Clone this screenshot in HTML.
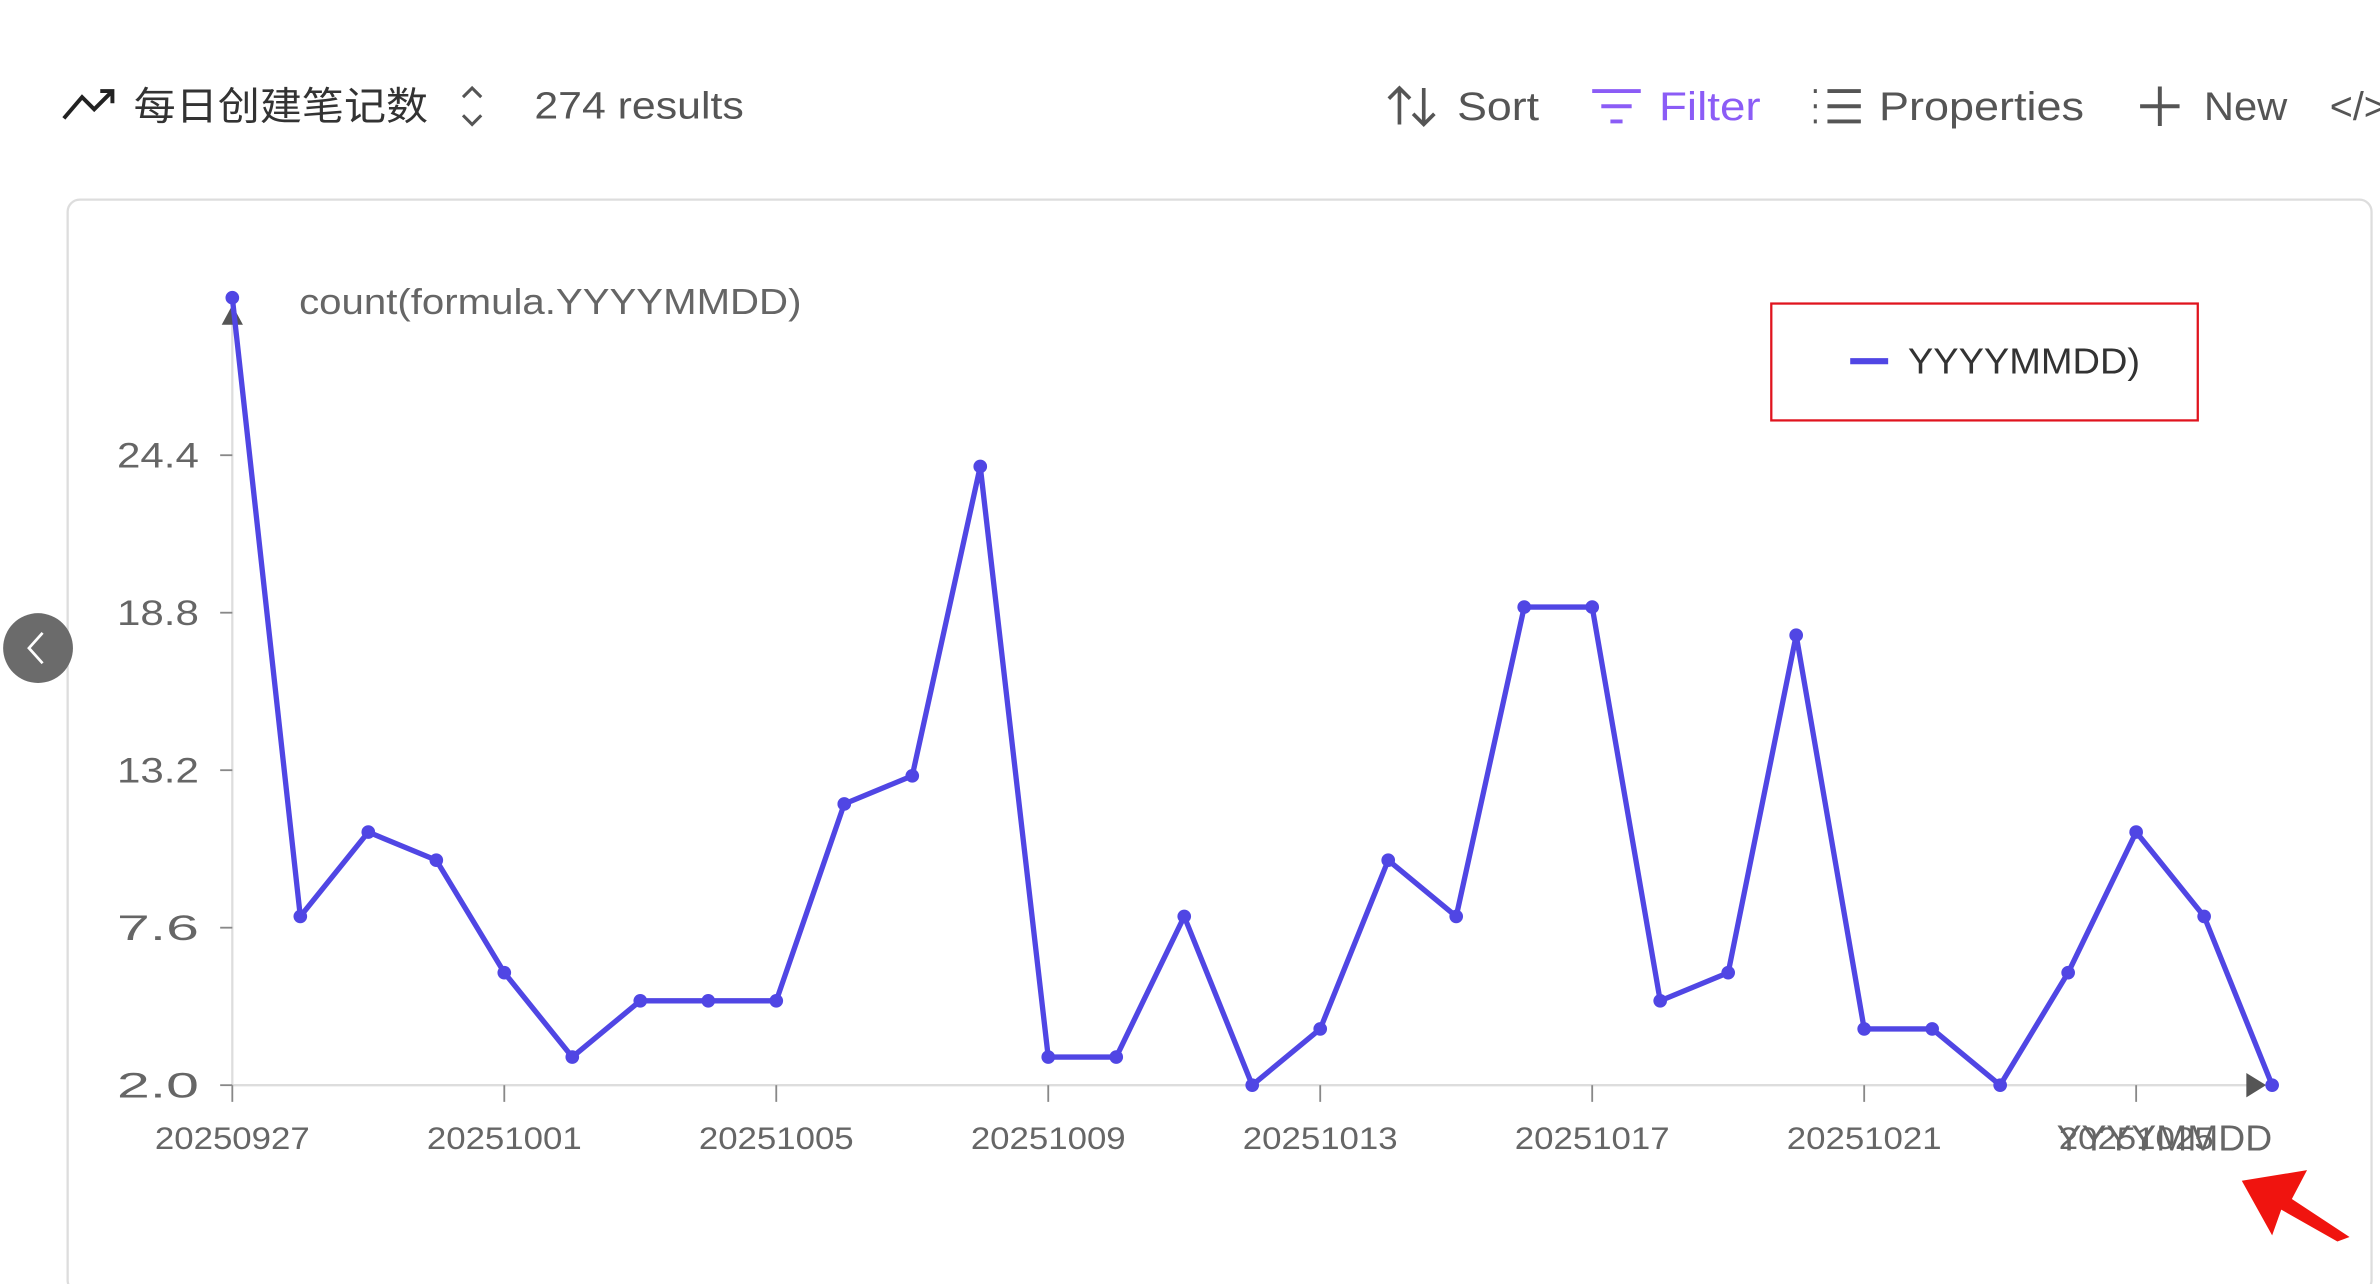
<!DOCTYPE html>
<html><head><meta charset="utf-8"><style>
html,body{margin:0;padding:0;background:#fff;width:2380px;height:1284px;overflow:hidden}
svg{display:block}
text{font-family:"Liberation Sans","Noto Sans CJK SC",sans-serif}
</style></head><body>
<svg id="root" width="2380" height="1284" viewBox="0 0 1568 846" xmlns="http://www.w3.org/2000/svg">
<rect width="1568" height="846" fill="#fff"/>
<g>
  <g>
    <path d="M42 78 L54 64 L62 72 L74 60 M66 60 L74 60 L74 68" fill="none" stroke="#222" stroke-width="2.6"/>
    <text x="88" y="79" font-size="26" fill="#333" textLength="194" lengthAdjust="spacingAndGlyphs">每日创建笔记数</text>
    <path d="M305 64 L311 58 L317 64 M305 76 L311 82 L317 76" fill="none" stroke="#555" stroke-width="2"/>
  </g>
  <text x="352" y="78" font-size="25" fill="#555" textLength="138" lengthAdjust="spacingAndGlyphs">274 results</text>
  <g>
    <path d="M922 82 L922 58 M915 65 L922 58 L929 65 M938 58 L938 82 M931 75 L938 82 L945 75" fill="none" stroke="#555" stroke-width="2.4"/>
    <text x="960" y="79" font-size="26" fill="#555" textLength="54" lengthAdjust="spacingAndGlyphs">Sort</text>
  </g>
  <g>
    <path d="M1049 60 L1081 60 M1055 70 L1075 70 M1061 80 L1069 80" stroke="#8b5cf6" stroke-width="2.6"/>
    <text x="1093" y="79" font-size="26" fill="#8b5cf6" textLength="67" lengthAdjust="spacingAndGlyphs">Filter</text>
  </g>
  <g>
    <path d="M1195 60h2M1195 70h2M1195 80h2M1204 60h22M1204 70h22M1204 80h22" stroke="#555" stroke-width="2.6"/>
    <text x="1238" y="79" font-size="26" fill="#555" textLength="135" lengthAdjust="spacingAndGlyphs">Properties</text>
  </g>
  <g>
    <path d="M1423 57 L1423 83 M1410 70 L1436 70" stroke="#555" stroke-width="2.6"/>
    <text x="1452" y="79" font-size="26" fill="#555" textLength="55" lengthAdjust="spacingAndGlyphs">New</text>
  </g>
  <text x="1535" y="79" font-size="26" fill="#555">&lt;/&gt;</text>
</g>
<rect x="44.5" y="131.5" width="1518" height="720" rx="8" fill="#fff" stroke="#ddd" stroke-width="1.5"/>
<g id="chart"></g>
<g>
  <rect x="1167" y="200" width="281" height="77" fill="none" stroke="#e0141e" stroke-width="1.5"/>
  <line x1="1219" y1="238" x2="1244" y2="238" stroke="#5046e4" stroke-width="4"/>
  <text x="1257" y="246" font-size="24" fill="#333" textLength="153" lengthAdjust="spacingAndGlyphs">YYYYMMDD)</text>
</g>
<g>
  <circle cx="25" cy="427" r="23" fill="#6b6b6b"/>
  <path d="M28 417 L19 427 L28 437" fill="none" stroke="#fff" stroke-width="1.8"/>
</g>
<polygon points="1477,778 1520,771 1510,790 1548,815 1540,818 1503,797 1497,814" fill="#f0140f"/>
</svg>
<script>
const categories = ["20250927","20250928","20250929","20250930","20251001","20251002","20251003","20251004","20251005","20251006","20251007","20251008","20251009","20251010","20251011","20251012","20251013","20251014","20251015","20251016","20251017","20251018","20251019","20251020","20251021","20251022","20251023","20251024","20251025","20251026","20251027"];
const counts = [30,8,11,10,6,3,5,5,5,12,13,24,3,3,8,2,4,10,8,19,19,5,6,18,4,4,2,6,11,8,2];
const yTicks = [2.0,7.6,13.2,18.8,24.4];
const xTickEvery = 4;
const NS = "http://www.w3.org/2000/svg";
const g = document.getElementById("chart");
const X0=153, DX=44.8, Y0=715, YPER=18.53;
function xs(i){return X0+i*DX;}
function ys(v){return Y0-(v-2)*YPER;}
function mk(tag,attrs,parent){const e=document.createElementNS(NS,tag);for(const k in attrs)e.setAttribute(k,attrs[k]);(parent||g).appendChild(e);return e;}
const yAxis=mk("line",{x1:X0,y1:Y0,x2:X0,y2:212,stroke:"#ddd","stroke-width":1.5});


const yArrow=mk("polygon",{points:`${X0-7},214 ${X0+7},214 ${X0},201`,fill:"#555"});


const xAxis=mk("line",{x1:X0,y1:Y0,x2:1488,y2:Y0,stroke:"#ddd","stroke-width":1.5});


const xArrow=mk("polygon",{points:`1480,707 1480,723 1493,715`,fill:"#555"});


yTicks.forEach(v=>{
  const t=mk("line",{x1:X0-8,y1:ys(v),x2:X0,y2:ys(v),stroke:"#888","stroke-width":1.2});
  
  
  const l=mk("text",{x:131,y:ys(v)+8,"font-size":23,fill:"#666","text-anchor":"end",textLength:54,lengthAdjust:"spacingAndGlyphs"});
  l.textContent=v.toFixed(1);
  
  
});
categories.forEach((c,i)=>{
  if(i%xTickEvery!==0)return;
  const t=mk("line",{x1:xs(i),y1:Y0,x2:xs(i),y2:Y0+11,stroke:"#888","stroke-width":1.2});
  
  
  const l=mk("text",{x:xs(i),y:757,"font-size":21,fill:"#666","text-anchor":"middle",textLength:102,lengthAdjust:"spacingAndGlyphs"});
  l.textContent=c;
  
  
});
const yt=mk("text",{x:197,y:207,"font-size":24,fill:"#666",textLength:331,lengthAdjust:"spacingAndGlyphs"});
yt.textContent="count(formula.YYYYMMDD)";


const xt=mk("text",{x:xs(categories.length-1),y:758,"font-size":24,fill:"#666","text-anchor":"end",textLength:142,lengthAdjust:"spacingAndGlyphs"});
xt.textContent="YYYYMMDD";


const pts=counts.map((v,i)=>xs(i)+","+ys(v)).join(" ");
const line=mk("polyline",{points:pts,fill:"none",stroke:"#5046e4","stroke-width":3.5,"stroke-linejoin":"round"});


counts.forEach((v,i)=>{
  const d=mk("circle",{cx:xs(i),cy:ys(v),r:4.5,fill:"#5046e4"});
  
  
});
</script>
</body></html>
